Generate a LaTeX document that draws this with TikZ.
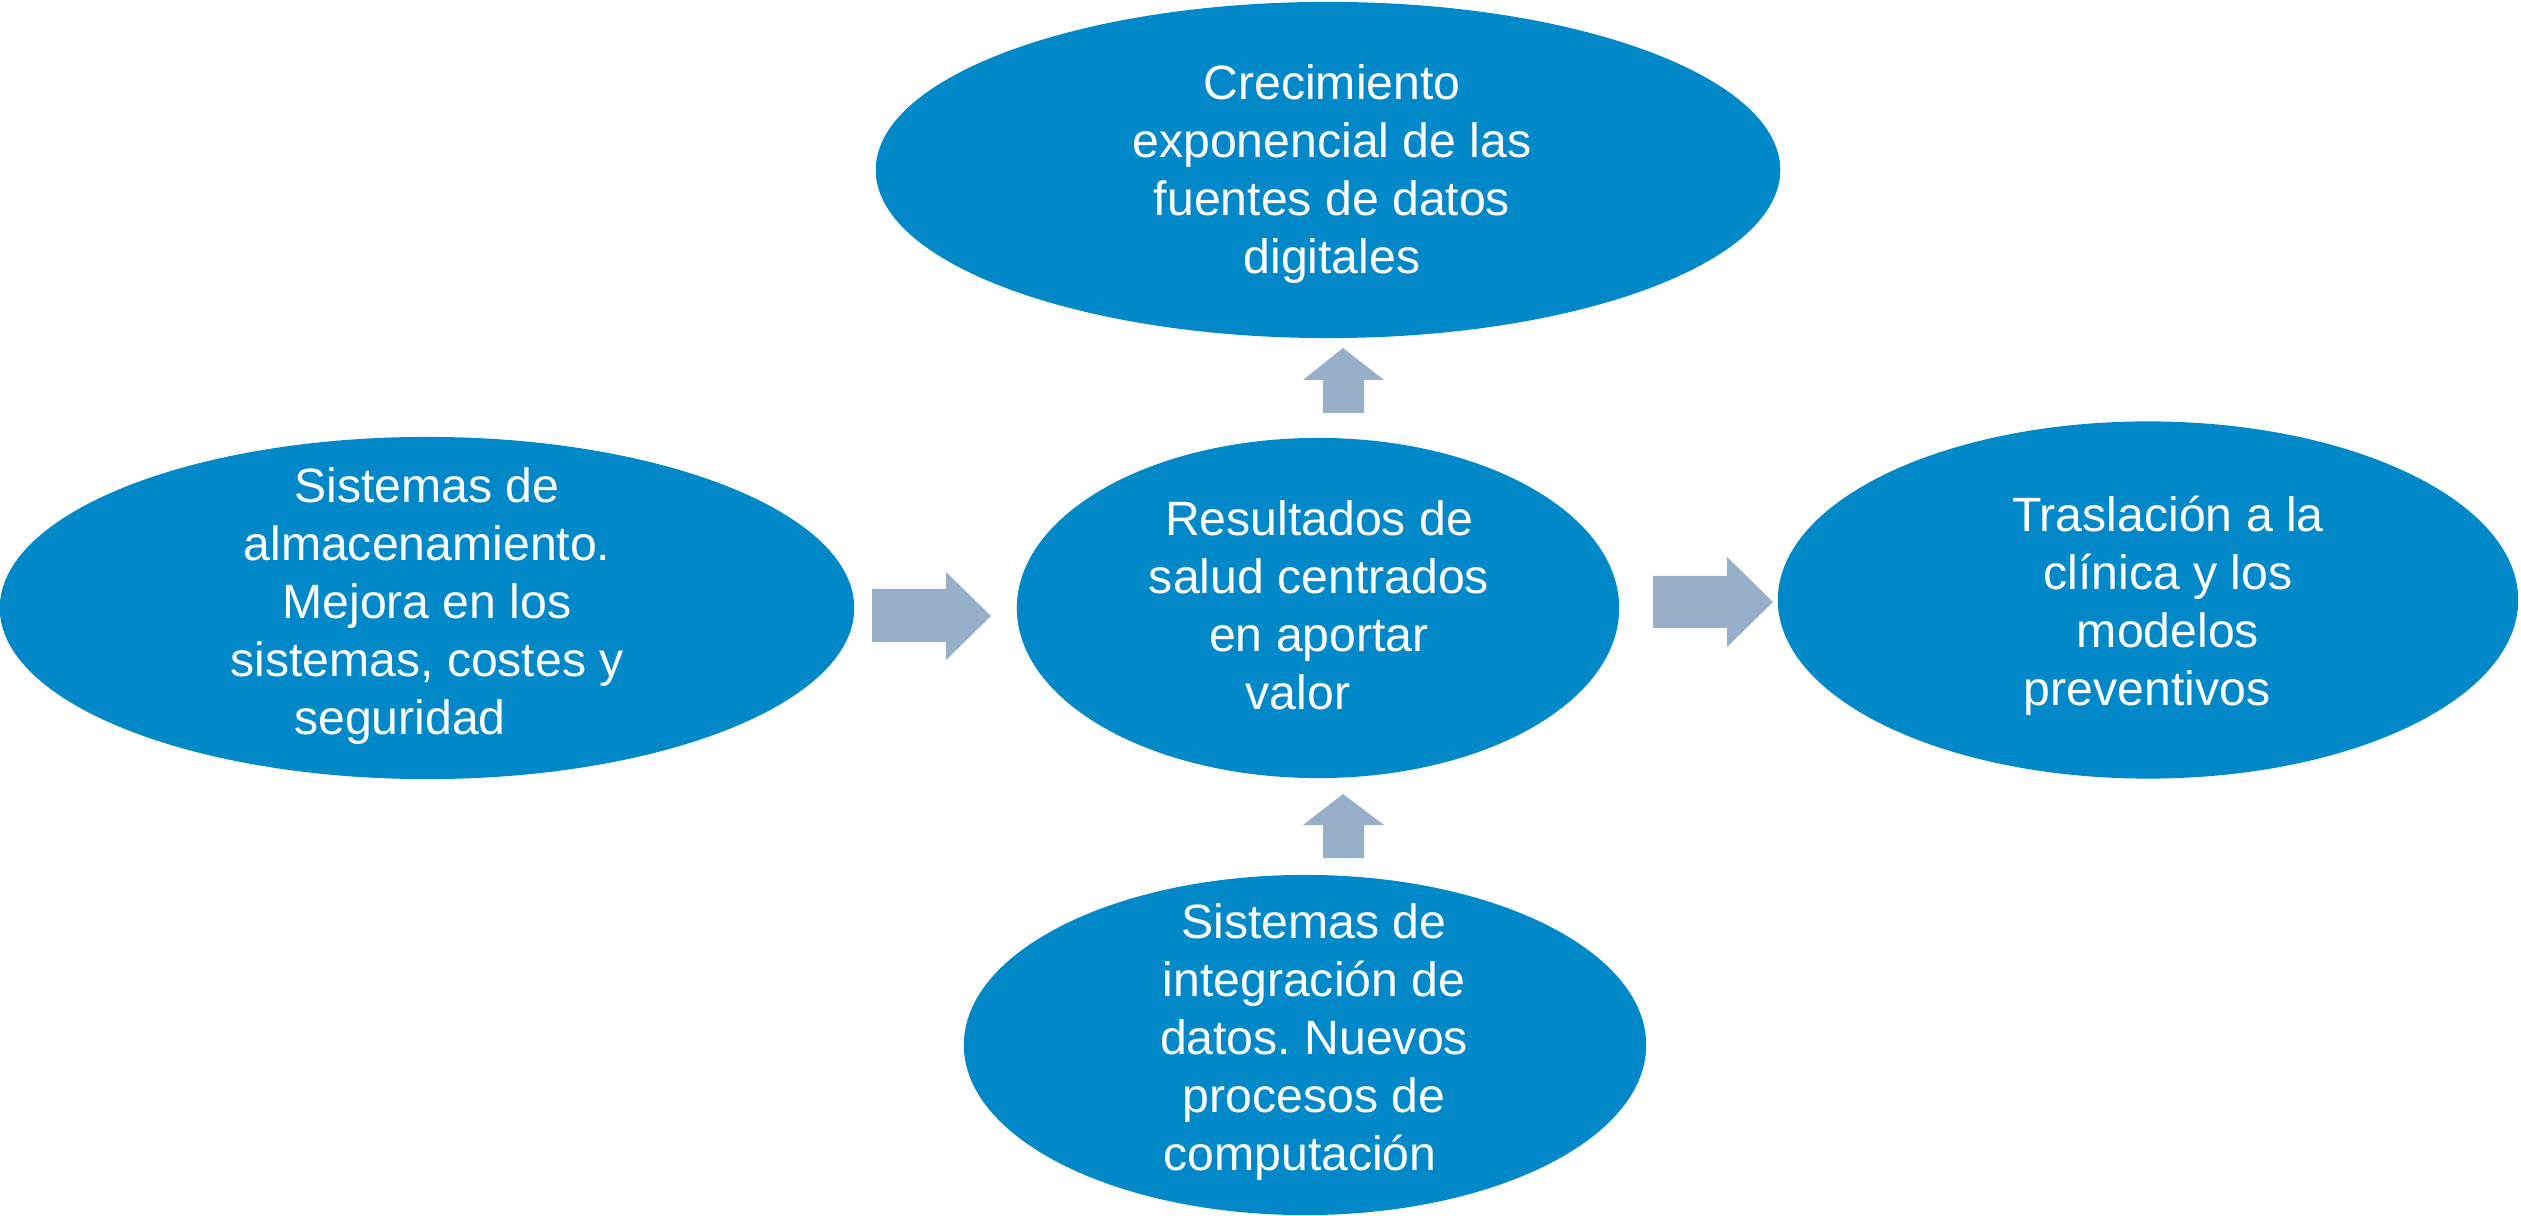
\documentclass[tikz,border=0pt]{standalone}
\usepackage{fontspec}
\setmainfont{Liberation Sans}
\usetikzlibrary{shapes.geometric}
\definecolor{ellblue}{RGB}{0,136,200}
\definecolor{arrgray}{RGB}{152,175,202}
\frenchspacing
\begin{document}
\begin{tikzpicture}[x=0.01cm,y=-0.01cm,
  ell/.style={ellipse,fill=ellblue,draw=none,inner sep=0pt},
  txt/.style={text=white,align=center,inner sep=0pt,font=\fontsize{13.7pt}{16.5pt}\selectfont},
  blockarrow/.style={fill=arrgray,draw=none}]
\useasboundingbox (0,0) rectangle (2521,1216);
% ellipses
\node[ell,minimum width=9.04cm,minimum height=3.36cm] (top) at (1328,170) {};
\node[ell,minimum width=8.54cm,minimum height=3.42cm] (left) at (427,608) {};
\node[ell,minimum width=6.02cm,minimum height=3.40cm] (center) at (1318,608) {};
\node[ell,minimum width=7.40cm,minimum height=3.57cm] (right) at (2148,600) {};
\node[ell,minimum width=6.82cm,minimum height=3.40cm] (bottom) at (1305,1045) {};
% texts
\node[txt] (toptxt) at (1332,174) {Crecimiento\\exponencial de las\\fuentes de datos\\digitales};
\node[txt] (lefttxt) at (427,606) {Sistemas de\\almacenamiento.\\Mejora en los\\sistemas, costes y\\seguridad\hspace*{0.54cm}};
\node[txt] (centertxt) at (1319,605) {Resultados de\\salud centrados\\en aportar\\valor\hspace*{0.42cm}};
\node[txt] (righttxt) at (2168,606) {Traslación a la\\clínica y los\\modelos\\preventivos\hspace*{0.42cm}};
\node[txt] (bottomtxt) at (1314,1042) {Sistemas de\\integración de\\datos. Nuevos\\procesos de\hspace*{0.14cm}\\computación\hspace*{0.28cm}};
% block arrows
\fill[blockarrow] (872,589) -- (946,589) -- (946,572) -- (991,616) -- (946,660) -- (946,642) -- (872,642) -- cycle;
\fill[blockarrow] (1653,576) -- (1727,576) -- (1727,557) -- (1773,602) -- (1727,647) -- (1727,628) -- (1653,628) -- cycle;
\fill[blockarrow] (1323,413) -- (1323,380) -- (1303,380) -- (1343,348) -- (1384,380) -- (1364,380) -- (1364,413) -- cycle;
\fill[blockarrow] (1323,858) -- (1323,825) -- (1303,825) -- (1343,794) -- (1384,825) -- (1364,825) -- (1364,858) -- cycle;
\end{tikzpicture}
\end{document}
